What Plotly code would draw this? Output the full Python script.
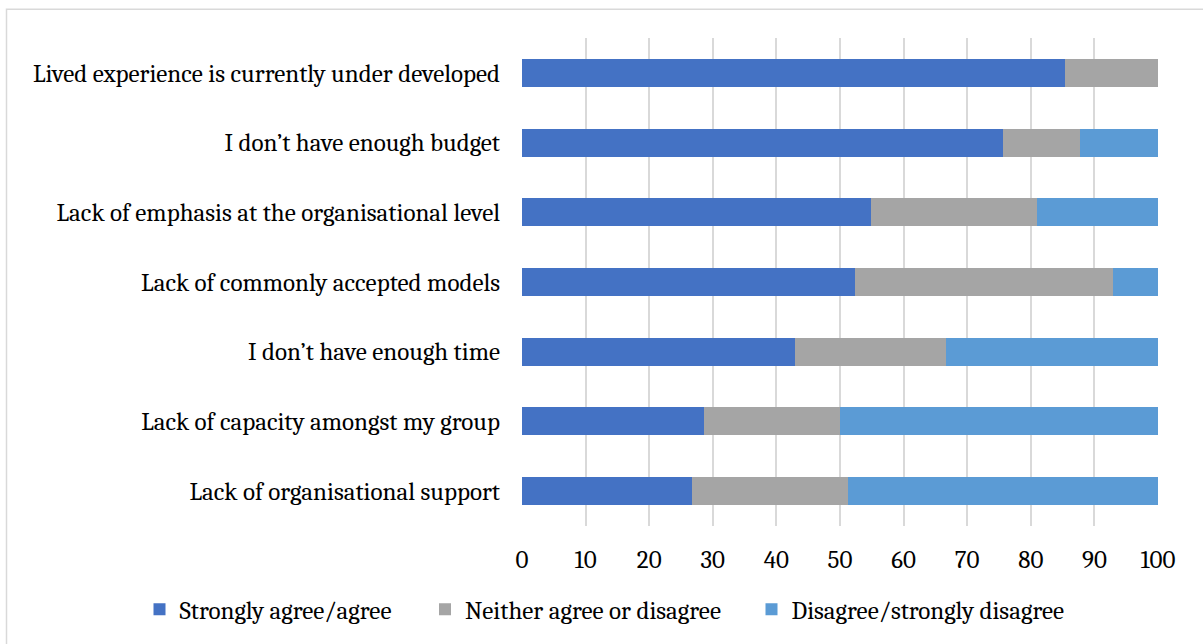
import plotly.graph_objects as go

# Survey barriers, listed top to bottom
categories = [
    "Lived experience is currently under developed",
    "I don’t have enough budget",
    "Lack of emphasis at the organisational level",
    "Lack of commonly accepted models",
    "I don’t have enough time",
    "Lack of capacity amongst my group",
    "Lack of organisational support",
]

# Percentage of respondents per response group
agree = [85.4, 75.6, 54.8, 52.4, 42.9, 28.6, 26.8]
neither = [14.6, 12.2, 26.2, 40.5, 23.8, 21.4, 24.4]
disagree = [0.0, 12.2, 19.0, 7.1, 33.3, 50.0, 48.8]

series_names = ["Strongly agree/agree", "Neither agree or disagree", "Disagree/strongly disagree"]
series_colors = ["#4472C4", "#A5A5A5", "#5B9BD5"]
x_ticks = list(range(0, 101, 10))

FONT = "Cambria, 'Liberation Serif', serif"
FS = 25

W, H = 1203, 644
L, R, T, B = 522, 45, 38, 115
pw, ph = W - L - R, H - T - B

def px_x(p):
    return (p - L) / pw

def px_y(p):
    return (H - B - p) / ph

# each series gets its own legend box so the three keys sit where wanted
legend_ids = ["legend", "legend2", "legend3"]
legend_left = [139.5, 425, 751.5]

fig = go.Figure()
for name, vals, color, lid in zip(series_names, [agree, neither, disagree], series_colors, legend_ids):
    fig.add_trace(go.Bar(
        y=categories,
        x=vals,
        name=name,
        orientation="h",
        legend=lid,
        marker=dict(color=color, line=dict(width=0)),
    ))

legend_style = dict(
    orientation="h",
    xanchor="left",
    y=px_y(613),
    yanchor="middle",
    font=dict(family=FONT, size=FS, color="#000000"),
    bgcolor="rgba(0,0,0,0)",
)

fig.update_layout(
    width=W,
    height=H,
    barmode="stack",
    bargap=0.6,
    margin=dict(l=L, r=R, t=T, b=B),
    paper_bgcolor="white",
    plot_bgcolor="white",
    font=dict(family=FONT, size=FS, color="#000000"),
    showlegend=True,
    legend=dict(x=px_x(legend_left[0]), **legend_style),
    legend2=dict(x=px_x(legend_left[1]), **legend_style),
    legend3=dict(x=px_x(legend_left[2]), **legend_style),
    xaxis=dict(
        range=[0, 100],
        tickvals=x_ticks,
        ticktext=[str(v) for v in x_ticks],
        showgrid=True,
        gridcolor="#D9D9D9",
        gridwidth=1.5,
        zeroline=False,
        showline=False,
        ticks="",
        ticklabelstandoff=16,
        tickfont=dict(family=FONT, size=FS, color="#000000"),
    ),
    yaxis=dict(
        autorange="reversed",
        showgrid=False,
        zeroline=False,
        showline=False,
        ticks="",
        ticklabelstandoff=21,
        tickfont=dict(family=FONT, size=FS, color="#000000"),
    ),
    shapes=[
        dict(
            type="rect",
            xref="paper",
            yref="paper",
            x0=px_x(6.5),
            x1=px_x(1250),
            y0=px_y(700),
            y1=px_y(9),
            line=dict(color="#D9D9D9", width=1.5),
            fillcolor="rgba(0,0,0,0)",
            layer="below",
        )
    ],
)

fig.write_html("out.html")
